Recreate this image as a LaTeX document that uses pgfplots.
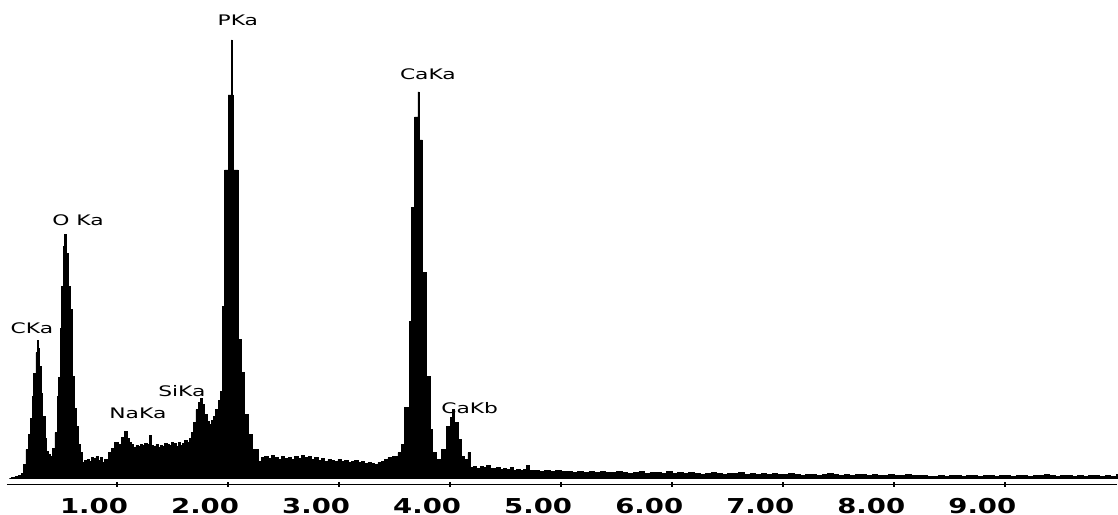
\documentclass[border=0pt]{standalone}
\usepackage{graphicx}
\usepackage{fontspec}
\usepackage{pgfplots}
\pgfplotsset{compat=1.18}
\newfontfamily\lblfont{DejaVu Sans}
\newfontfamily\tckfont{DejaVu Sans}
\newcommand\tl[1]{\scalebox{1.34}[1]{\tckfont\bfseries\fontsize{7.35}{8}\selectfont #1}}
\newcommand\pk[1]{\scalebox{1.5}[1]{\lblfont\fontsize{5.2}{6}\selectfont #1}}
\begin{document}
\begin{tikzpicture}
\begin{axis}[
  x=39.75pt, y=0.35778pt,
  xmin=0.009, xmax=10.009, ymin=-6, ymax=479,
  enlargelimits=false, clip=false,
  axis y line=none,
  axis x line*=bottom,
  x axis line style={-, line width=0.5pt},
  xtick={1,2,3,4,5,6,7,8,9},
  xticklabels={\tl{1.00},\tl{2.00},\tl{3.00},\tl{4.00},\tl{5.00},\tl{6.00},\tl{7.00},\tl{8.00},\tl{9.00}},
  xticklabel style={anchor=center, xshift=-8.23pt, yshift=-6.98pt, inner sep=0pt},
  major tick length=1.6pt, tick align=center,
  tick style={black, line width=0.6pt},
  ytick=\empty,
]
\path (axis cs:-0.054,-36) rectangle (axis cs:10.009,479);
\addplot[ybar interval=1, fill=black, draw=black, line width=0.25pt] table {
x y
0.03 0
0.05 1
0.08 2
0.11 3
0.14 5
0.16 14
0.18 29
0.20 44
0.22 60
0.24 82
0.25 105
0.27 126
0.28 138
0.29 130
0.30 112
0.32 85
0.33 62
0.35 40
0.36 27
0.38 24
0.40 22
0.42 30
0.44 46
0.46 82
0.47 101
0.49 150
0.50 192
0.52 232
0.53 244
0.54 225
0.56 192
0.58 169
0.60 102
0.62 70
0.63 52
0.65 34
0.67 26
0.69 16
0.71 18
0.73 19
0.75 17
0.77 21
0.79 20
0.81 22
0.83 18
0.85 21
0.87 16
0.89 19
0.92 26
0.95 30
0.98 36
1.01 34
1.04 41
1.07 47
1.09 40
1.11 36
1.13 34
1.15 31
1.17 33
1.19 32
1.21 34
1.23 33
1.25 35
1.27 34
1.29 43
1.31 33
1.33 32
1.35 34
1.37 31
1.39 33
1.41 32
1.43 35
1.45 34
1.47 33
1.49 36
1.51 35
1.53 32
1.55 36
1.57 33
1.59 35
1.61 38
1.63 36
1.65 40
1.67 46
1.69 56
1.71 69
1.73 76
1.75 80
1.77 74
1.79 64
1.81 57
1.83 54
1.85 58
1.87 62
1.89 69
1.91 78
1.93 87
1.95 172
1.97 309
2.00 384
2.03 439
2.036 384
2.045 309
2.09 139
2.12 106
2.15 64
2.18 44
2.22 29
2.27 17
2.30 21
2.33 22
2.36 20
2.39 23
2.42 21
2.45 19
2.48 22
2.51 20
2.54 21
2.57 19
2.60 22
2.63 20
2.66 23
2.69 21
2.72 22
2.75 19
2.78 21
2.81 18
2.84 20
2.87 17
2.90 19
2.93 18
2.96 17
2.99 19
3.02 17
3.05 18
3.08 16
3.11 17
3.14 18
3.17 16
3.20 17
3.23 15
3.26 16
3.29 15
3.32 14
3.35 16
3.38 17
3.41 19
3.44 21
3.48 22
3.53 26
3.56 34
3.59 71
3.63 157
3.65 271
3.68 362
3.71 387
3.72 362
3.725 339
3.75 206
3.79 102
3.82 49
3.84 26
3.88 19
3.92 29
3.97 52
4.00 61
4.02 69
4.04 56
4.07 39
4.10 22
4.13 19
4.16 26
4.18 11
4.21 12
4.24 10
4.27 12
4.30 11
4.33 13
4.36 10
4.39 10
4.42 11
4.45 9
4.48 10
4.51 9
4.54 11
4.57 8
4.60 9
4.63 8
4.66 9
4.69 13
4.71 8
4.75 8
4.80 7
4.85 8
4.90 7
4.95 8
5.00 7
5.05 7
5.10 6
5.15 7
5.20 6
5.25 7
5.30 6
5.35 7
5.40 6
5.45 6
5.50 7
5.55 6
5.60 5
5.65 6
5.70 7
5.75 5
5.80 6
5.85 6
5.90 5
5.95 7
6.00 5
6.05 6
6.10 5
6.15 6
6.20 5
6.25 4
6.30 5
6.35 6
6.40 5
6.45 4
6.50 5
6.55 5
6.60 6
6.65 4
6.70 5
6.75 4
6.80 5
6.85 4
6.90 5
6.95 4
7.00 4
7.05 5
7.10 4
7.15 3
7.20 4
7.25 4
7.30 3
7.35 4
7.40 5
7.45 4
7.50 3
7.55 4
7.60 3
7.65 4
7.70 4
7.75 3
7.80 4
7.85 3
7.90 3
7.95 4
8.00 3
8.05 3
8.10 4
8.15 3
8.20 3
8.25 3
8.30 2
8.35 2
8.40 3
8.45 2
8.50 3
8.55 3
8.60 2
8.65 3
8.70 3
8.75 2
8.80 3
8.85 3
8.90 2
8.95 3
9.00 3
9.05 2
9.10 3
9.15 3
9.20 2
9.25 3
9.30 3
9.35 4
9.40 3
9.45 2
9.50 3
9.55 3
9.60 2
9.65 3
9.70 2
9.75 3
9.80 3
9.85 2
9.90 3
9.95 2
10.00 4
10.009 4
};
\node at (axis cs:2.088,459) {\pk{PKa}};
\node at (axis cs:3.80,405) {\pk{CaKa}};
\node at (axis cs:0.648,259) {\pk{O Ka}};
\node at (axis cs:0.234,151) {\pk{CKa}};
\node at (axis cs:1.188,65) {\pk{NaKa}};
\node at (axis cs:1.584,88) {\pk{SiKa}};
\node at (axis cs:4.176,71) {\pk{CaKb}};
\end{axis}
\end{tikzpicture}
\end{document}
